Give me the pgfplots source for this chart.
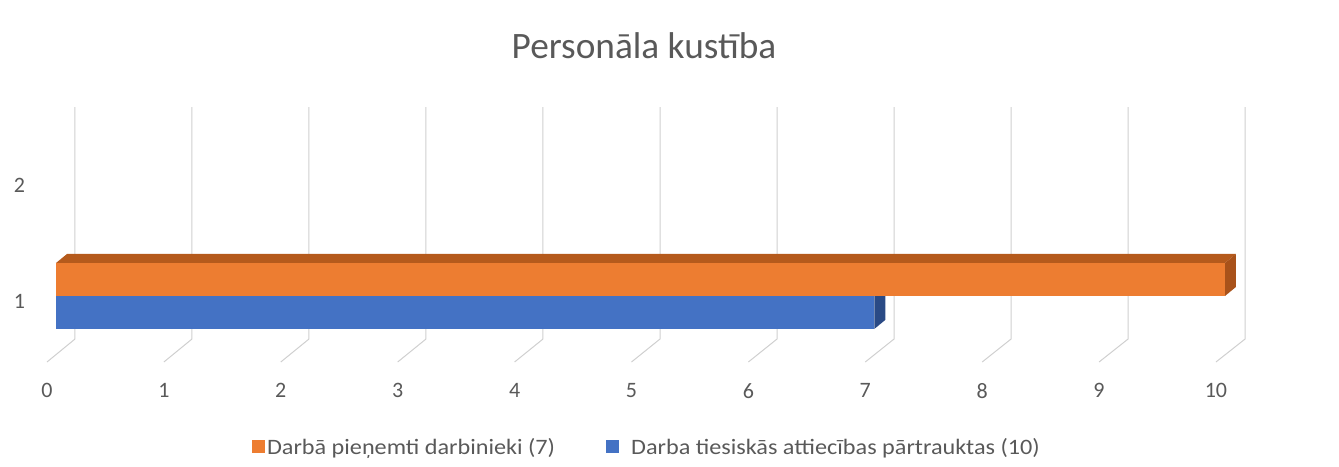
\documentclass[border=0pt]{standalone}
\usepackage{pgfplots}
\pgfplotsset{compat=1.18}
\usepackage{fontspec}
\setmainfont{Carlito}
\definecolor{txt}{HTML}{595959}
\definecolor{gridc}{HTML}{CFCFCF}
\definecolor{org}{HTML}{ED7D31}
\definecolor{orgdark}{HTML}{B55A1C}
\definecolor{orgside}{HTML}{A9521A}
\definecolor{blu}{HTML}{4472C4}
\definecolor{bludark}{HTML}{2A4A85}
\begin{document}
\begin{tikzpicture}[x=1pt,y=1pt]
\useasboundingbox (0,0) rectangle (1339,466);
\begin{axis}[
  at={(28pt,89pt)}, anchor=south west,
  scale only axis, width=1272pt, height=292pt,
  xmin=-0.2395, xmax=10.642, ymin=0.3017, ymax=2.819,
  clip=false,
  axis line style={draw=none},
  major tick length=0pt,
  xtick={0,1,2,3,4,5,6,7,8,9,10},
  ytick={1,2},
  /pgf/number format/assume math mode=true,
  tick label style={font=\fontsize{22}{24}\selectfont, text=txt},
  xticklabel style={xshift=-9pt, yshift=-3pt},
  yticklabel style={yshift=-5pt, xshift=0.5pt},
  title={\fontsize{37.3}{40}\selectfont\textcolor{txt}{Personāla kustība}},
  title style={at={(axis cs:5.03,3.11)}, anchor=center, inner sep=0pt},
  legend columns=2,
  legend style={draw=none, fill=none, at={(axis cs:5.055,-0.30)}, anchor=center,
    font=\fontsize{22}{24}\selectfont\addfontfeature{FakeStretch=1.1}, text=txt,
    /tikz/every even column/.append style={column sep=49pt},
    inner sep=0pt},
  legend cell align=left,
  legend image code/.code={\path[fill,#1] (0pt,-6pt) rectangle (13pt,7pt);},
]
% grid lines: back wall and floor
\addplot[forget plot, gridc, line width=1pt] coordinates {(0.1625,2.629) (0.1625,0.629) (-0.077,0.431)};
\addplot[forget plot, gridc, line width=1pt] coordinates {(1.163,2.629) (1.163,0.629) (0.923,0.431)};
\addplot[forget plot, gridc, line width=1pt] coordinates {(2.164,2.629) (2.164,0.629) (1.923,0.431)};
\addplot[forget plot, gridc, line width=1pt] coordinates {(3.165,2.629) (3.165,0.629) (2.923,0.431)};
\addplot[forget plot, gridc, line width=1pt] coordinates {(4.166,2.629) (4.166,0.629) (3.923,0.431)};
\addplot[forget plot, gridc, line width=1pt] coordinates {(5.167,2.629) (5.167,0.629) (4.923,0.431)};
\addplot[forget plot, gridc, line width=1pt] coordinates {(6.168,2.629) (6.168,0.629) (5.923,0.431)};
\addplot[forget plot, gridc, line width=1pt] coordinates {(7.169,2.629) (7.169,0.629) (6.923,0.431)};
\addplot[forget plot, gridc, line width=1pt] coordinates {(8.170,2.629) (8.170,0.629) (7.923,0.431)};
\addplot[forget plot, gridc, line width=1pt] coordinates {(9.171,2.629) (9.171,0.629) (8.923,0.431)};
\addplot[forget plot, gridc, line width=1pt] coordinates {(10.172,2.629) (10.172,0.629) (9.923,0.431)};
% side and top faces
\addplot[forget plot, fill=bludark, draw=none] coordinates {(7,0.7155) (7.094,0.7935) (7.094,1.078) (7,1)} -- cycle;
\addplot[forget plot, fill=orgdark, draw=none] coordinates {(0,1.2845) (0.094,1.3621) (10.094,1.3621) (10,1.2845)} -- cycle;
\addplot[forget plot, fill=orgside, draw=none] coordinates {(10,1) (10.094,1.078) (10.094,1.3621) (10,1.2845)} -- cycle;
% front faces
\addplot[fill=org, draw=none] coordinates {(0,1) (10,1) (10,1.2845) (0,1.2845)} -- cycle;
\addplot[fill=blu, draw=none] coordinates {(0,0.7155) (7,0.7155) (7,1) (0,1)} -- cycle;
\legend{Darbā pieņemti darbinieki (7), \hspace{10pt}Darba tiesiskās attiecības pārtrauktas (10)}
\end{axis}
\end{tikzpicture}
\end{document}
